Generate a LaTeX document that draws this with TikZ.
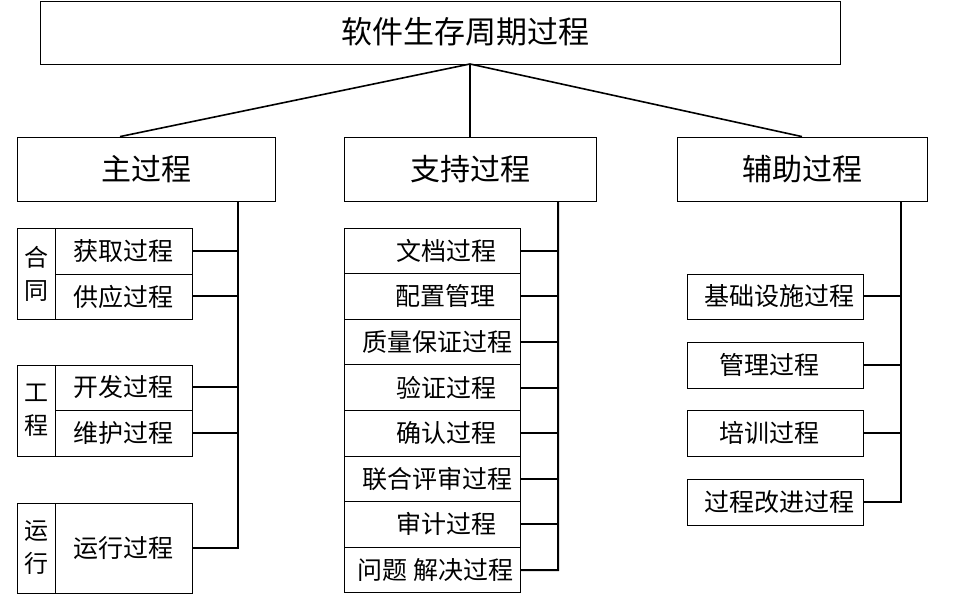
\documentclass[tikz,border=0pt]{standalone}
\usepackage{fontspec}
\usepackage{tikz}
\usetikzlibrary{positioning,calc}
\newfontfamily\cjk{Noto Sans CJK SC}

\begin{document}
\begin{tikzpicture}[
  x=1pt, y=-1pt,
  font=\cjk,
  rootbox/.style={draw, line width=0.8pt, inner sep=0pt, minimum width=800,
                  minimum height=63},
  phasebox/.style={draw, line width=0.8pt, inner sep=0pt, minimum height=64,
                   font=\cjk\fontsize{30}{30}\selectfont},
  cellbox/.style={draw, line width=0.8pt, inner sep=0pt, minimum width=137,
                  font=\cjk\fontsize{25}{25}\selectfont},
  tagbox/.style={draw, line width=0.8pt, inner sep=0pt, minimum width=38,
                 align=center, font=\cjk\fontsize{24}{33}\selectfont},
  celltext/.style={inner sep=0pt, font=\cjk\fontsize{25}{25}\selectfont},
  wire/.style={line width=1.6pt},
  branch/.style={line width=2pt},
]
\useasboundingbox (0,0) rectangle (956,601);
% ---- Root ----------------------------------------------------------------
\node[rootbox] (root) at (440.5,32.5) {};
\node[inner sep=0pt, font=\cjk\fontsize{31}{31}\selectfont] (roottext)
  at (465,32) {软件生存周期过程};
\coordinate (hub) at (470,64);
% ---- Phases --------------------------------------------------------------
\node[phasebox, minimum width=258] (main) at (146,169) {主过程};
\node[phasebox, minimum width=252] (support) at (470,169) {支持过程};
\node[phasebox, minimum width=250] (aux) at (802,169) {辅助过程};
\draw[wire] (hub) -- ([xshift=-26]main.north);
\draw[wire] (hub) -- (support.north);
\draw[wire] (hub) -- (aux.north);
% ---- Main processes ------------------------------------------------------
\coordinate (lbus) at (238,548);
\foreach \t/\y/\h [count=\i] in {{合\\同}/273.5/91, {工\\程}/410.5/91,
                                 {运\\行}/548/90} {
  \node[tagbox, minimum height=\h] (g\i) at (36,\y) {\t};
}
\foreach \t/\y/\h [count=\i] in {获取过程/251/46, 供应过程/296.5/45,
                                 开发过程/387.5/45, 维护过程/433/46,
                                 运行过程/548/90} {
  \node[cellbox, minimum height=\h] (m\i) at (123.5,\y) {\t};
  \draw[branch] (m\i.east) -- (m\i.east -| lbus);
}
\draw[branch] (main.south -| lbus) -- (lbus) -- (m5.east);
% ---- Supporting processes ------------------------------------------------
\coordinate (sbus) at (558,570);
\foreach \t/\dx [count=\i] in {文档过程/14.5, 配置管理/13.5, 质量保证过程/5.5,
                               验证过程/14.5, 确认过程/14.5, 联合评审过程/5.5,
                               审计过程/14, 问题 解决过程/3.5} {
  \node[cellbox, minimum width=176, minimum height=45.6] (s\i)
    at (432,205.2+\i*45.6) {};
  \node[celltext] (st\i) at ([xshift=\dx]s\i.center) {\t};
  \draw[branch] (s\i.east) -- (s\i.east -| sbus);
}
\draw[branch] (support.south -| sbus) -- (sbus) -- (s8.east);
% ---- Organisational processes --------------------------------------------
\coordinate (abus) at (901,502);
\foreach \t/\y/\h/\dx [count=\i] in {基础设施过程/296.5/45/4.5,
                                     管理过程/365/46/-6, 培训过程/433/46/-6,
                                     过程改进过程/502/46/4.5} {
  \node[cellbox, minimum width=176, minimum height=\h] (a\i) at (775,\y) {};
  \node[celltext] (at\i) at ([xshift=\dx]a\i.center) {\t};
  \draw[branch] (a\i.east) -- (a\i.east -| abus);
}
\draw[branch] (aux.south -| abus) -- (abus) -- (a4.east);
\end{tikzpicture}
\end{document}
